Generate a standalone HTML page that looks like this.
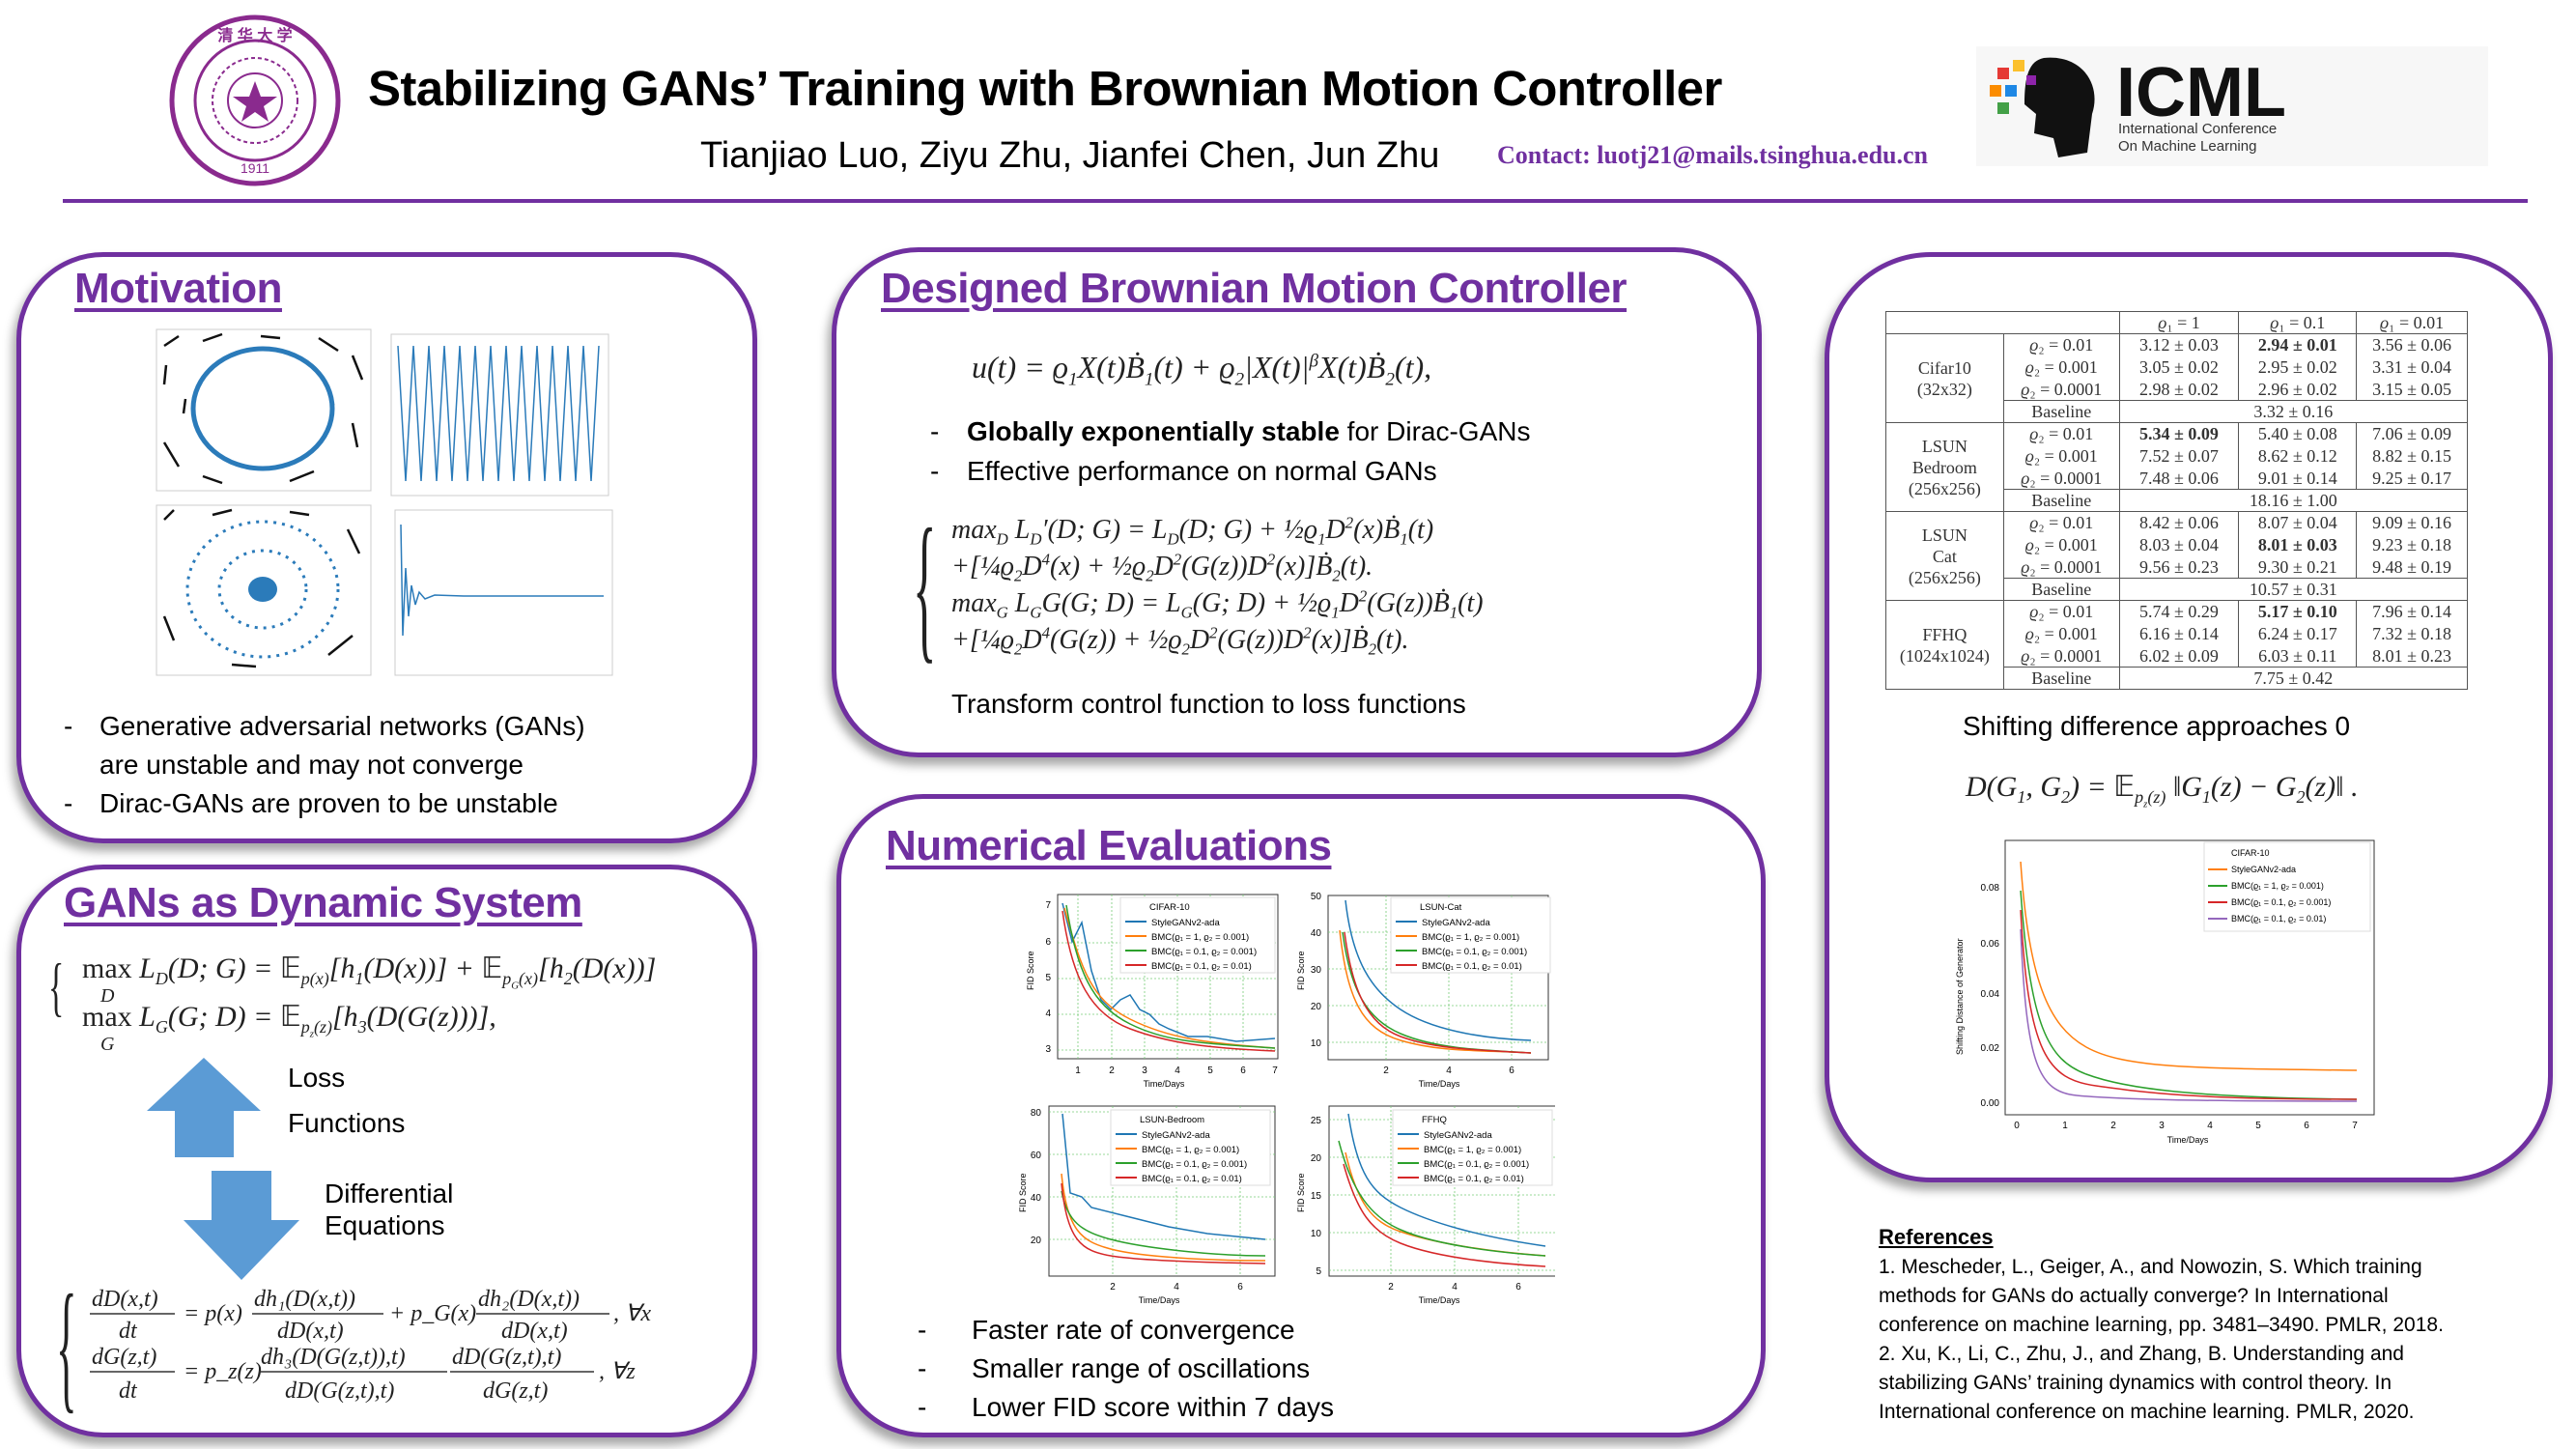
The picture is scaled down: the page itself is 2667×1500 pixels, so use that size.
<!DOCTYPE html>
<html><head><meta charset="utf-8">
<style>
*{margin:0;padding:0;box-sizing:border-box}
body{width:2667px;height:1500px;background:#fff;position:relative;overflow:hidden;font-family:"Liberation Sans",sans-serif;color:#000}
.a{position:absolute;white-space:nowrap}
.panel{position:absolute;border:5px solid #7030a0;border-radius:90px;background:#fff;box-shadow:-4px 8px 10px rgba(0,0,0,0.35)}
.h{position:absolute;font-weight:bold;color:#7030a0;text-decoration:underline;text-decoration-thickness:4px;text-underline-offset:6px;font-size:44px;white-space:nowrap;letter-spacing:-0.5px}
.t{position:absolute;font-size:28px;white-space:nowrap}
.m{position:absolute;font-family:"Liberation Serif",serif;font-style:italic;white-space:nowrap;color:#222}
.m sub,.m sup{font-size:60%;line-height:0}
table{border-collapse:collapse;font-family:"Liberation Serif",serif;font-size:18px;color:#333}
td{border:1.5px solid #555;text-align:center;padding:0;height:23px;line-height:22px}
td.n{border-top:none;border-bottom:none}
svg text{font-family:"Liberation Sans",sans-serif}
</style></head><body>

<svg class="a" style="left:174px;top:14px" width="180" height="180" viewBox="0 0 180 180">
<circle cx="90" cy="90" r="86" fill="none" stroke="#8a2a8e" stroke-width="5"/>
<circle cx="90" cy="90" r="62" fill="none" stroke="#8a2a8e" stroke-width="3"/>
<circle cx="90" cy="90" r="44" fill="none" stroke="#8a2a8e" stroke-width="2" stroke-dasharray="4 3"/>
<circle cx="90" cy="90" r="28" fill="none" stroke="#8a2a8e" stroke-width="2"/>
<polygon points="90,70 96,86 113,86 99,96 104,112 90,102 76,112 81,96 67,86 84,86" fill="#8a2a8e"/>
<text x="90" y="28" text-anchor="middle" font-size="16" fill="#8a2a8e" font-weight="bold">清 华 大 学</text>
<text x="90" y="165" text-anchor="middle" font-size="14" fill="#8a2a8e">1911</text>
</svg>
<div class="a" style="left:381px;top:62px;font-size:51px;font-weight:bold;letter-spacing:-0.6px">Stabilizing GANs’ Training with Brownian Motion Controller</div>
<div class="a" style="left:725px;top:140px;font-size:38px">Tianjiao Luo, Ziyu Zhu, Jianfei Chen, Jun Zhu</div>
<div class="a" style="left:1550px;top:146px;font-size:26px;font-family:'Liberation Serif',serif;font-weight:bold;color:#7030a0">Contact: luotj21@mails.tsinghua.edu.cn</div>
<svg class="a" style="left:2046px;top:48px" width="530" height="124" viewBox="0 0 530 124">
<rect width="530" height="124" fill="#f7f7f7"/>
<path d="M70 12 C110 8 130 40 120 70 L115 110 L85 115 L80 95 L60 90 L62 70 L50 60 C50 30 55 15 70 12Z" fill="#111"/>
<rect x="22" y="22" width="12" height="12" fill="#e53935"/><rect x="38" y="14" width="12" height="12" fill="#fbc02d"/>
<rect x="14" y="40" width="12" height="12" fill="#fb8c00"/><rect x="30" y="40" width="12" height="12" fill="#1e88e5"/>
<rect x="22" y="58" width="12" height="12" fill="#43a047"/><rect x="52" y="30" width="10" height="10" fill="#8e24aa"/>
<text x="145" y="72" font-size="72" font-weight="bold" fill="#111">ICML</text>
<text x="147" y="90" font-size="15" fill="#333">International Conference</text>
<text x="147" y="108" font-size="15" fill="#333">On Machine Learning</text>
</svg>
<div class="a" style="left:65px;top:206px;width:2552px;height:4px;background:#7030a0"></div>

<div class="panel" style="left:17px;top:261px;width:767px;height:612px"></div>
<div class="h" style="left:77px;top:274px">Motivation</div>
<svg class="a" style="left:150px;top:338px" width="490" height="370" viewBox="0 0 490 370">
<rect x="12" y="3" width="222" height="167" fill="#fff" stroke="#ccc"/>
<g stroke="#111" stroke-width="2.5">
<line x1="20" y1="20" x2="35" y2="10"/><line x1="60" y1="15" x2="80" y2="8"/><line x1="120" y1="10" x2="140" y2="12"/><line x1="180" y1="12" x2="200" y2="25"/><line x1="215" y1="30" x2="225" y2="55"/>
<line x1="20" y1="60" x2="22" y2="40"/><line x1="215" y1="100" x2="220" y2="125"/><line x1="20" y1="120" x2="35" y2="145"/><line x1="60" y1="155" x2="80" y2="162"/><line x1="150" y1="160" x2="175" y2="150"/>
<line x1="40" y1="90" x2="42" y2="75"/><line x1="195" y1="80" x2="193" y2="95"/>
</g>
<ellipse cx="122" cy="85" rx="72" ry="62" fill="none" stroke="#2b7bba" stroke-width="5"/>
<rect x="255" y="8" width="225" height="167" fill="#fff" stroke="#ccc"/>
<path d="M262 20 L270 160 L278 20 L286 160 L294 20 L302 160 L310 20 L318 160 L326 20 L334 160 L342 20 L350 160 L358 20 L366 160 L374 20 L382 160 L390 20 L398 160 L406 20 L414 160 L422 20 L430 160 L438 20 L446 160 L454 20 L462 160 L470 20" fill="none" stroke="#2b7bba" stroke-width="1.5"/>
<rect x="12" y="185" width="222" height="176" fill="#fff" stroke="#ccc"/>
<g stroke="#111" stroke-width="2.5">
<line x1="20" y1="200" x2="30" y2="190"/><line x1="70" y1="195" x2="90" y2="190"/><line x1="150" y1="192" x2="170" y2="195"/><line x1="210" y1="210" x2="222" y2="235"/><line x1="20" y1="300" x2="30" y2="325"/><line x1="90" y1="350" x2="115" y2="352"/><line x1="190" y1="340" x2="215" y2="320"/>
</g>
<ellipse cx="122" cy="272" rx="78" ry="70" fill="none" stroke="#2b7bba" stroke-width="3" stroke-dasharray="3 6"/>
<ellipse cx="122" cy="272" rx="45" ry="40" fill="none" stroke="#2b7bba" stroke-width="3" stroke-dasharray="3 6"/>
<ellipse cx="122" cy="272" rx="15" ry="13" fill="#2b7bba"/>
<rect x="259" y="190" width="225" height="171" fill="#fff" stroke="#ccc"/>
<path d="M265 205 L267 320 L270 250 L273 300 L276 268 L280 288 L284 275 L290 282 L300 278 L330 279 L475 279" fill="none" stroke="#2b7bba" stroke-width="1.5"/>
</svg>
<div class="t" style="left:66px;top:736px">-</div><div class="t" style="left:103px;top:736px">Generative adversarial networks (GANs)</div>
<div class="t" style="left:103px;top:776px">are unstable and may not converge</div>
<div class="t" style="left:66px;top:816px">-</div><div class="t" style="left:103px;top:816px">Dirac-GANs are proven to be unstable</div>

<div class="panel" style="left:17px;top:895px;width:767px;height:593px"></div>
<div class="h" style="left:66px;top:910px">GANs as Dynamic System</div>
<div class="m" style="left:50px;top:982px;font-size:68px;font-style:normal;transform:scaleX(0.5);transform-origin:left">{</div>
<div class="m" style="left:85px;top:985px;font-size:30px"><span style="font-style:normal">max</span> L<sub>D</sub>(D; G) = <span style="font-style:normal">𝔼</span><sub>p(x)</sub>[h<sub>1</sub>(D(x))] + <span style="font-style:normal">𝔼</span><sub>p<sub>G</sub>(x)</sub>[h<sub>2</sub>(D(x))]</div>
<div class="m" style="left:104px;top:1020px;font-size:20px">D</div>
<div class="m" style="left:85px;top:1035px;font-size:30px"><span style="font-style:normal">max</span> L<sub>G</sub>(G; D) = <span style="font-style:normal">𝔼</span><sub>p<sub>z</sub>(z)</sub>[h<sub>3</sub>(D(G(z)))],</div>
<div class="m" style="left:104px;top:1070px;font-size:20px">G</div>
<svg class="a" style="left:150px;top:1095px" width="170" height="230" viewBox="0 0 170 230">
<polygon points="2,55 61,0 120,55 92,55 92,103 31,103 31,55" fill="#5b9bd5"/>
<polygon points="69,117 131,117 131,168 160,168 100,230 40,168 69,168" fill="#5b9bd5"/>
</svg>
<div class="t" style="left:298px;top:1100px">Loss</div>
<div class="t" style="left:298px;top:1147px">Functions</div>
<div class="t" style="left:336px;top:1220px">Differential</div>
<div class="t" style="left:336px;top:1253px">Equations</div>
<div class="m" style="left:58px;top:1318px;font-size:150px;font-style:normal;transform:scaleX(0.3);transform-origin:left;line-height:1">{</div>
<svg class="a" style="left:85px;top:1325px" width="620" height="130" viewBox="0 0 620 130" font-size="24" fill="#222">
<g style="font-family:'Liberation Serif';font-style:italic">
<text x="10" y="27" style="font-family:'Liberation Serif'">dD(x,t)</text><line x1="8" y1="35" x2="96" y2="35" stroke="#333" stroke-width="1.5"/><text x="38" y="60" style="font-family:'Liberation Serif'">dt</text>
<text x="105" y="42" style="font-family:'Liberation Serif'">= p(x)</text>
<text x="178" y="27" style="font-family:'Liberation Serif'">dh₁(D(x,t))</text><line x1="176" y1="35" x2="312" y2="35" stroke="#333" stroke-width="1.5"/><text x="202" y="60" style="font-family:'Liberation Serif'">dD(x,t)</text>
<text x="318" y="42" style="font-family:'Liberation Serif'">+ p_G(x)</text>
<text x="410" y="27" style="font-family:'Liberation Serif'">dh₂(D(x,t))</text><line x1="408" y1="35" x2="546" y2="35" stroke="#333" stroke-width="1.5"/><text x="434" y="60" style="font-family:'Liberation Serif'">dD(x,t)</text>
<text x="550" y="42" style="font-family:'Liberation Serif'">, ∀x</text>
<text x="10" y="87" style="font-family:'Liberation Serif'">dG(z,t)</text><line x1="8" y1="95" x2="96" y2="95" stroke="#333" stroke-width="1.5"/><text x="38" y="122" style="font-family:'Liberation Serif'">dt</text>
<text x="105" y="102" style="font-family:'Liberation Serif'">= p_z(z)</text>
<text x="185" y="87" style="font-family:'Liberation Serif'">dh₃(D(G(z,t)),t)</text><line x1="183" y1="95" x2="378" y2="95" stroke="#333" stroke-width="1.5"/><text x="210" y="122" style="font-family:'Liberation Serif'">dD(G(z,t),t)</text>
<text x="383" y="87" style="font-family:'Liberation Serif'">dD(G(z,t),t)</text><line x1="381" y1="95" x2="530" y2="95" stroke="#333" stroke-width="1.5"/><text x="415" y="122" style="font-family:'Liberation Serif'">dG(z,t)</text>
<text x="535" y="102" style="font-family:'Liberation Serif'">, ∀z</text>
</g>
</svg>

<div class="panel" style="left:861px;top:256px;width:963px;height:528px"></div>
<div class="h" style="left:912px;top:274px">Designed Brownian Motion Controller</div>
<div class="m" style="left:1006px;top:362px;font-size:32px">u(t) = ϱ<sub>1</sub>X(t)Ḃ<sub>1</sub>(t) + ϱ<sub>2</sub>|X(t)|<sup>β</sup>X(t)Ḃ<sub>2</sub>(t),</div>
<div class="t" style="left:963px;top:431px">-</div><div class="t" style="left:1001px;top:431px"><b>Globally exponentially stable</b> for Dirac-GANs</div>
<div class="t" style="left:963px;top:472px">-</div><div class="t" style="left:1001px;top:472px">Effective performance on normal GANs</div>
<div class="m" style="left:945px;top:522px;font-size:170px;font-style:normal;transform:scaleX(0.3);transform-origin:left;line-height:1">{</div>
<div class="m" style="left:985px;top:530px;font-size:28px;line-height:38px">max<sub>D</sub> L<sub>D</sub>′(D; G) = L<sub>D</sub>(D; G) + ½ϱ<sub>1</sub>D<sup>2</sup>(x)Ḃ<sub>1</sub>(t)<br>+[¼ϱ<sub>2</sub>D<sup>4</sup>(x) + ½ϱ<sub>2</sub>D<sup>2</sup>(G(z))D<sup>2</sup>(x)]Ḃ<sub>2</sub>(t).<br>max<sub>G</sub> L<sub>G</sub>G(G; D) = L<sub>G</sub>(G; D) + ½ϱ<sub>1</sub>D<sup>2</sup>(G(z))Ḃ<sub>1</sub>(t)<br>+[¼ϱ<sub>2</sub>D<sup>4</sup>(G(z)) + ½ϱ<sub>2</sub>D<sup>2</sup>(G(z))D<sup>2</sup>(x)]Ḃ<sub>2</sub>(t).</div>
<div class="t" style="left:985px;top:713px">Transform control function to loss functions</div>

<div class="panel" style="left:866px;top:822px;width:962px;height:666px"></div>
<div class="h" style="left:917px;top:851px">Numerical Evaluations</div>
<svg class="a" style="left:1050px;top:915px" width="560" height="440" viewBox="0 0 560 440" font-size="10">
<rect x="45" y="11" width="228" height="170" fill="#fff" stroke="#333"/>
<g stroke="#7c7" stroke-dasharray="2 2" stroke-width="0.8"><line x1="66" y1="11" x2="66" y2="181"/><line x1="101" y1="11" x2="101" y2="181"/><line x1="135" y1="11" x2="135" y2="181"/><line x1="169" y1="11" x2="169" y2="181"/><line x1="203" y1="11" x2="203" y2="181"/><line x1="237" y1="11" x2="237" y2="181"/><line x1="45" y1="61" x2="273" y2="61"/><line x1="45" y1="98" x2="273" y2="98"/><line x1="45" y1="135" x2="273" y2="135"/><line x1="45" y1="172" x2="273" y2="172"/></g>
<path d="M50 20 L60 60 L70 40 L80 90 L90 120 L100 130 L110 120 L120 115 L130 130 L140 135 L150 145 L160 150 L180 158 L200 158 L230 163 L270 160" fill="none" stroke="#1f77b4" stroke-width="1.5"/>
<path d="M52 25 C70 90 80 120 120 140 S200 165 270 170" fill="none" stroke="#ff7f0e" stroke-width="1.5"/>
<path d="M54 22 C65 90 80 125 120 145 S200 165 270 170" fill="none" stroke="#2ca02c" stroke-width="1.5"/>
<path d="M50 28 C60 100 80 135 120 150 S200 170 270 173" fill="none" stroke="#d62728" stroke-width="1.5"/>
<text x="38" y="25" text-anchor="end">7</text><text x="38" y="63" text-anchor="end">6</text><text x="38" y="100" text-anchor="end">5</text><text x="38" y="137" text-anchor="end">4</text><text x="38" y="174" text-anchor="end">3</text>
<text x="20" y="110" transform="rotate(-90 20 110)" font-size="9">FID Score</text>
<text x="66" y="196" text-anchor="middle">1</text><text x="101" y="196" text-anchor="middle">2</text><text x="135" y="196" text-anchor="middle">3</text><text x="169" y="196" text-anchor="middle">4</text><text x="203" y="196" text-anchor="middle">5</text><text x="237" y="196" text-anchor="middle">6</text><text x="270" y="196" text-anchor="middle">7</text>
<text x="155" y="210" text-anchor="middle" font-size="9">Time/Days</text>
<rect x="325" y="12" width="228" height="170" fill="#fff" stroke="#333"/>
<g stroke="#7c7" stroke-dasharray="2 2" stroke-width="0.8"><line x1="385" y1="12" x2="385" y2="182"/><line x1="450" y1="12" x2="450" y2="182"/><line x1="515" y1="12" x2="515" y2="182"/><line x1="325" y1="50" x2="553" y2="50"/><line x1="325" y1="88" x2="553" y2="88"/><line x1="325" y1="126" x2="553" y2="126"/><line x1="325" y1="164" x2="553" y2="164"/></g>
<path d="M343 17 C350 80 370 110 400 130 S480 160 535 162" fill="none" stroke="#1f77b4" stroke-width="1.5"/>
<path d="M337 48 C345 120 360 150 400 162 S480 172 535 175" fill="none" stroke="#ff7f0e" stroke-width="1.5"/>
<path d="M340 50 C348 110 365 140 400 155 S480 172 535 175" fill="none" stroke="#2ca02c" stroke-width="1.5"/>
<path d="M342 50 C350 110 365 145 400 158 S480 172 535 175" fill="none" stroke="#d62728" stroke-width="1.5"/>
<text x="318" y="16" text-anchor="end">50</text><text x="318" y="54" text-anchor="end">40</text><text x="318" y="92" text-anchor="end">30</text><text x="318" y="130" text-anchor="end">20</text><text x="318" y="168" text-anchor="end">10</text>
<text x="300" y="110" transform="rotate(-90 300 110)" font-size="9">FID Score</text>
<text x="385" y="196" text-anchor="middle">2</text><text x="450" y="196" text-anchor="middle">4</text><text x="515" y="196" text-anchor="middle">6</text>
<text x="440" y="210" text-anchor="middle" font-size="9">Time/Days</text>
<rect x="36" y="230" width="234" height="176" fill="#fff" stroke="#333"/>
<g stroke="#7c7" stroke-dasharray="2 2" stroke-width="0.8"><line x1="102" y1="230" x2="102" y2="406"/><line x1="168" y1="230" x2="168" y2="406"/><line x1="234" y1="230" x2="234" y2="406"/><line x1="36" y1="236" x2="270" y2="236"/><line x1="36" y1="280" x2="270" y2="280"/><line x1="36" y1="324" x2="270" y2="324"/><line x1="36" y1="368" x2="270" y2="368"/></g>
<path d="M50 238 L58 320 L70 324 L80 335 L120 345 L160 355 L200 362 L260 368" fill="none" stroke="#1f77b4" stroke-width="1.5"/>
<path d="M49 300 C55 360 70 370 100 378 S200 390 260 390" fill="none" stroke="#ff7f0e" stroke-width="1.5"/>
<path d="M49 318 C55 350 70 360 100 368 S200 385 260 385" fill="none" stroke="#2ca02c" stroke-width="1.5"/>
<path d="M49 310 C55 370 70 380 100 385 S200 392 260 393" fill="none" stroke="#d62728" stroke-width="1.5"/>
<text x="28" y="240" text-anchor="end">80</text><text x="28" y="284" text-anchor="end">60</text><text x="28" y="328" text-anchor="end">40</text><text x="28" y="372" text-anchor="end">20</text>
<text x="12" y="340" transform="rotate(-90 12 340)" font-size="9">FID Score</text>
<text x="102" y="420" text-anchor="middle">2</text><text x="168" y="420" text-anchor="middle">4</text><text x="234" y="420" text-anchor="middle">6</text>
<text x="150" y="434" text-anchor="middle" font-size="9">Time/Days</text>
<rect x="326" y="230" width="236" height="176" fill="#fff" stroke="#333"/>
<g stroke="#7c7" stroke-dasharray="2 2" stroke-width="0.8"><line x1="390" y1="230" x2="390" y2="406"/><line x1="456" y1="230" x2="456" y2="406"/><line x1="522" y1="230" x2="522" y2="406"/><line x1="326" y1="244" x2="562" y2="244"/><line x1="326" y1="283" x2="562" y2="283"/><line x1="326" y1="322" x2="562" y2="322"/><line x1="326" y1="361" x2="562" y2="361"/><line x1="326" y1="400" x2="562" y2="400"/></g>
<path d="M346 238 C355 300 370 320 400 335 S480 365 550 375" fill="none" stroke="#1f77b4" stroke-width="1.5"/>
<path d="M343 278 C355 330 370 350 400 360 S480 380 550 385" fill="none" stroke="#ff7f0e" stroke-width="1.5"/>
<path d="M336 266 C350 320 370 345 400 358 S480 380 550 385" fill="none" stroke="#2ca02c" stroke-width="1.5"/>
<path d="M341 290 C355 340 370 360 400 372 S480 392 550 396" fill="none" stroke="#d62728" stroke-width="1.5"/>
<text x="318" y="248" text-anchor="end">25</text><text x="318" y="287" text-anchor="end">20</text><text x="318" y="326" text-anchor="end">15</text><text x="318" y="365" text-anchor="end">10</text><text x="318" y="404" text-anchor="end">5</text>
<text x="300" y="340" transform="rotate(-90 300 340)" font-size="9">FID Score</text>
<text x="390" y="420" text-anchor="middle">2</text><text x="456" y="420" text-anchor="middle">4</text><text x="522" y="420" text-anchor="middle">6</text>
<text x="440" y="434" text-anchor="middle" font-size="9">Time/Days</text>
<g font-size="9.5">
<g transform="translate(110,14)"><rect width="160" height="78" fill="#fff" stroke="#ddd"/><text x="30" y="13">CIFAR-10</text></g>
<g transform="translate(390,14)"><rect width="165" height="78" fill="#fff" stroke="#ddd"/><text x="30" y="13">LSUN-Cat</text></g>
<g transform="translate(100,234)"><rect width="165" height="78" fill="#fff" stroke="#ddd"/><text x="30" y="13">LSUN-Bedroom</text></g>
<g transform="translate(392,234)"><rect width="165" height="78" fill="#fff" stroke="#ddd"/><text x="30" y="13">FFHQ</text></g>
</g>
<g font-size="9.5">
<g transform="translate(115,14)"><line x1="0" y1="25" x2="22" y2="25" stroke="#1f77b4" stroke-width="2"/><text x="27" y="29">StyleGANv2-ada</text><line x1="0" y1="40" x2="22" y2="40" stroke="#ff7f0e" stroke-width="2"/><text x="27" y="44">BMC(ϱ₁ = 1, ϱ₂ = 0.001)</text><line x1="0" y1="55" x2="22" y2="55" stroke="#2ca02c" stroke-width="2"/><text x="27" y="59">BMC(ϱ₁ = 0.1, ϱ₂ = 0.001)</text><line x1="0" y1="70" x2="22" y2="70" stroke="#d62728" stroke-width="2"/><text x="27" y="74">BMC(ϱ₁ = 0.1, ϱ₂ = 0.01)</text></g>
<g transform="translate(395,14)"><line x1="0" y1="25" x2="22" y2="25" stroke="#1f77b4" stroke-width="2"/><text x="27" y="29">StyleGANv2-ada</text><line x1="0" y1="40" x2="22" y2="40" stroke="#ff7f0e" stroke-width="2"/><text x="27" y="44">BMC(ϱ₁ = 1, ϱ₂ = 0.001)</text><line x1="0" y1="55" x2="22" y2="55" stroke="#2ca02c" stroke-width="2"/><text x="27" y="59">BMC(ϱ₁ = 0.1, ϱ₂ = 0.001)</text><line x1="0" y1="70" x2="22" y2="70" stroke="#d62728" stroke-width="2"/><text x="27" y="74">BMC(ϱ₁ = 0.1, ϱ₂ = 0.01)</text></g>
<g transform="translate(105,234)"><line x1="0" y1="25" x2="22" y2="25" stroke="#1f77b4" stroke-width="2"/><text x="27" y="29">StyleGANv2-ada</text><line x1="0" y1="40" x2="22" y2="40" stroke="#ff7f0e" stroke-width="2"/><text x="27" y="44">BMC(ϱ₁ = 1, ϱ₂ = 0.001)</text><line x1="0" y1="55" x2="22" y2="55" stroke="#2ca02c" stroke-width="2"/><text x="27" y="59">BMC(ϱ₁ = 0.1, ϱ₂ = 0.001)</text><line x1="0" y1="70" x2="22" y2="70" stroke="#d62728" stroke-width="2"/><text x="27" y="74">BMC(ϱ₁ = 0.1, ϱ₂ = 0.01)</text></g>
<g transform="translate(397,234)"><line x1="0" y1="25" x2="22" y2="25" stroke="#1f77b4" stroke-width="2"/><text x="27" y="29">StyleGANv2-ada</text><line x1="0" y1="40" x2="22" y2="40" stroke="#ff7f0e" stroke-width="2"/><text x="27" y="44">BMC(ϱ₁ = 1, ϱ₂ = 0.001)</text><line x1="0" y1="55" x2="22" y2="55" stroke="#2ca02c" stroke-width="2"/><text x="27" y="59">BMC(ϱ₁ = 0.1, ϱ₂ = 0.001)</text><line x1="0" y1="70" x2="22" y2="70" stroke="#d62728" stroke-width="2"/><text x="27" y="74">BMC(ϱ₁ = 0.1, ϱ₂ = 0.01)</text></g>
</g>
</svg>
<div class="t" style="left:950px;top:1361px">-</div><div class="t" style="left:1006px;top:1361px">Faster rate of convergence</div>
<div class="t" style="left:950px;top:1401px">-</div><div class="t" style="left:1006px;top:1401px">Smaller range of oscillations</div>
<div class="t" style="left:950px;top:1441px">-</div><div class="t" style="left:1006px;top:1441px">Lower FID score within 7 days</div>

<div class="panel" style="left:1889px;top:261px;width:754px;height:963px;border-radius:110px"></div>
<table class="a" style="left:1952px;top:322px;width:603px">
<colgroup><col style="width:122px"><col style="width:120px"><col style="width:124px"><col style="width:122px"><col style="width:115px"></colgroup>
<tr><td colspan="2" style="height:22px"></td><td><i>ϱ</i>₁ = 1</td><td><i>ϱ</i>₁ = 0.1</td><td><i>ϱ</i>₁ = 0.01</td></tr>
<tr><td rowspan="4">Cifar10<br>(32x32)</td><td class="n"><i>ϱ</i>₂ = 0.01</td><td class="n">3.12 ± 0.03</td><td class="n"><b>2.94 ± 0.01</b></td><td class="n">3.56 ± 0.06</td></tr>
<tr><td class="n"><i>ϱ</i>₂ = 0.001</td><td class="n">3.05 ± 0.02</td><td class="n">2.95 ± 0.02</td><td class="n">3.31 ± 0.04</td></tr>
<tr><td class="n"><i>ϱ</i>₂ = 0.0001</td><td class="n">2.98 ± 0.02</td><td class="n">2.96 ± 0.02</td><td class="n">3.15 ± 0.05</td></tr>
<tr><td>Baseline</td><td colspan="3">3.32 ± 0.16</td></tr>
<tr><td rowspan="4">LSUN<br>Bedroom<br>(256x256)</td><td class="n"><i>ϱ</i>₂ = 0.01</td><td class="n"><b>5.34 ± 0.09</b></td><td class="n">5.40 ± 0.08</td><td class="n">7.06 ± 0.09</td></tr>
<tr><td class="n"><i>ϱ</i>₂ = 0.001</td><td class="n">7.52 ± 0.07</td><td class="n">8.62 ± 0.12</td><td class="n">8.82 ± 0.15</td></tr>
<tr><td class="n"><i>ϱ</i>₂ = 0.0001</td><td class="n">7.48 ± 0.06</td><td class="n">9.01 ± 0.14</td><td class="n">9.25 ± 0.17</td></tr>
<tr><td>Baseline</td><td colspan="3">18.16 ± 1.00</td></tr>
<tr><td rowspan="4">LSUN<br>Cat<br>(256x256)</td><td class="n"><i>ϱ</i>₂ = 0.01</td><td class="n">8.42 ± 0.06</td><td class="n">8.07 ± 0.04</td><td class="n">9.09 ± 0.16</td></tr>
<tr><td class="n"><i>ϱ</i>₂ = 0.001</td><td class="n">8.03 ± 0.04</td><td class="n"><b>8.01 ± 0.03</b></td><td class="n">9.23 ± 0.18</td></tr>
<tr><td class="n"><i>ϱ</i>₂ = 0.0001</td><td class="n">9.56 ± 0.23</td><td class="n">9.30 ± 0.21</td><td class="n">9.48 ± 0.19</td></tr>
<tr><td>Baseline</td><td colspan="3">10.57 ± 0.31</td></tr>
<tr><td rowspan="4">FFHQ<br>(1024x1024)</td><td class="n"><i>ϱ</i>₂ = 0.01</td><td class="n">5.74 ± 0.29</td><td class="n"><b>5.17 ± 0.10</b></td><td class="n">7.96 ± 0.14</td></tr>
<tr><td class="n"><i>ϱ</i>₂ = 0.001</td><td class="n">6.16 ± 0.14</td><td class="n">6.24 ± 0.17</td><td class="n">7.32 ± 0.18</td></tr>
<tr><td class="n"><i>ϱ</i>₂ = 0.0001</td><td class="n">6.02 ± 0.09</td><td class="n">6.03 ± 0.11</td><td class="n">8.01 ± 0.23</td></tr>
<tr><td>Baseline</td><td colspan="3">7.75 ± 0.42</td></tr>
</table>
<div class="t" style="left:2032px;top:736px">Shifting difference approaches 0</div>
<div class="m" style="left:2035px;top:797px;font-size:30px">D(G<sub>1</sub>, G<sub>2</sub>) = <span style="font-style:normal">𝔼</span><sub>p<sub>z</sub>(z)</sub> ‖G<sub>1</sub>(z) − G<sub>2</sub>(z)‖ .</div>
<svg class="a" style="left:2020px;top:862px" width="450" height="330" viewBox="0 0 450 330" font-size="10">
<rect x="56" y="8" width="382" height="284" fill="#fff" stroke="#333"/>
<text x="50" y="60" text-anchor="end">0.08</text><text x="50" y="118" text-anchor="end">0.06</text><text x="50" y="170" text-anchor="end">0.04</text><text x="50" y="226" text-anchor="end">0.02</text><text x="50" y="283" text-anchor="end">0.00</text>
<text x="12" y="230" transform="rotate(-90 12 230)" font-size="9">Shifting Distance of Generator</text>
<text x="68" y="306" text-anchor="middle">0</text><text x="118" y="306" text-anchor="middle">1</text><text x="168" y="306" text-anchor="middle">2</text><text x="218" y="306" text-anchor="middle">3</text><text x="268" y="306" text-anchor="middle">4</text><text x="318" y="306" text-anchor="middle">5</text><text x="368" y="306" text-anchor="middle">6</text><text x="418" y="306" text-anchor="middle">7</text>
<text x="245" y="321" text-anchor="middle" font-size="9">Time/Days</text>
<path d="M72 30 C80 150 100 200 140 222 S250 244 420 246" fill="none" stroke="#ff7f0e" stroke-width="1.5"/>
<path d="M72 60 C82 200 100 235 140 250 S250 274 420 276" fill="none" stroke="#2ca02c" stroke-width="1.5"/>
<path d="M72 80 C80 230 100 255 150 262 S250 276 420 276" fill="none" stroke="#d62728" stroke-width="1.5"/>
<path d="M72 100 C78 240 90 268 130 272 S250 278 420 278" fill="none" stroke="#9467bd" stroke-width="1.5"/>
<g font-size="9"><rect x="262" y="10" width="172" height="92" fill="#fff" stroke="#ddd"/>
<text x="290" y="24">CIFAR-10</text>
<line x1="266" y1="38" x2="286" y2="38" stroke="#ff7f0e" stroke-width="2"/><text x="290" y="41">StyleGANv2-ada</text>
<line x1="266" y1="55" x2="286" y2="55" stroke="#2ca02c" stroke-width="2"/><text x="290" y="58">BMC(ϱ₁ = 1, ϱ₂ = 0.001)</text>
<line x1="266" y1="72" x2="286" y2="72" stroke="#d62728" stroke-width="2"/><text x="290" y="75">BMC(ϱ₁ = 0.1, ϱ₂ = 0.001)</text>
<line x1="266" y1="89" x2="286" y2="89" stroke="#9467bd" stroke-width="2"/><text x="290" y="92">BMC(ϱ₁ = 0.1, ϱ₂ = 0.01)</text></g>
</svg>

<div class="a" style="left:1945px;top:1268px;font-size:22px;font-weight:bold;text-decoration:underline">References</div>
<div class="a" style="left:1945px;top:1297px;font-size:21px;line-height:30px">1. Mescheder, L., Geiger, A., and Nowozin, S. Which training<br>methods for GANs do actually converge? In International<br>conference on machine learning, pp. 3481–3490. PMLR, 2018.<br>2. Xu, K., Li, C., Zhu, J., and Zhang, B. Understanding and<br>stabilizing GANs’ training dynamics with control theory. In<br>International conference on machine learning. PMLR, 2020.</div>
</body></html>
